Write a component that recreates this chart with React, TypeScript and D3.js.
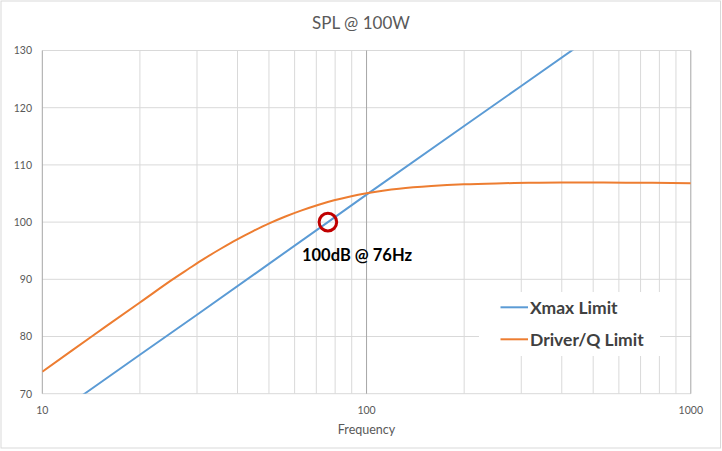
import * as d3 from 'd3'
import { useEffect, useRef } from 'react'

const WIDTH = 722
const HEIGHT = 451
const MARGIN = { LEFT: 42.3, RIGHT: 31.2, TOP: 50.5, BOTTOM: 57.3 }

const FONT = 'Lato, "Open Sans", sans-serif'

// Xmax limit (straight 12 dB/oct line)
const xmaxFreq = [10, 13.5, 20, 30, 50, 76, 100, 200, 300, 432, 500]
const xmaxSpl = [64.8, 70, 76.8, 83.8, 92.7, 100, 104.8, 116.8, 123.8, 130.1, 132.6]

// Driver / Q limit
const driverFreq = [10, 14.2, 20, 25.1, 28.2, 31.6, 35.5, 39.8, 44.7, 50.1, 56.2, 63.1, 70.8, 79.4, 89.1, 100, 112.2, 125.9, 158.5, 199.5, 251.2, 316.2, 398.1, 631, 1000]
const driverSpl = [73.85, 80.0, 85.95, 89.9, 91.8, 93.62, 95.34, 96.94, 98.42, 99.77, 100.97, 102.04, 102.99, 103.81, 104.49, 105.05, 105.5, 105.85, 106.3, 106.6, 106.77, 106.87, 106.92, 106.9, 106.8]

const yTicks = [70, 80, 90, 100, 110, 120, 130]
const xTickLabels = [10, 100, 1000]

const seriesNames = ['Xmax Limit', 'Driver/Q Limit']
const colors = ['#5B9BD5', '#ED7D31']

const markerFreq = 76
const markerSpl = 100
const markerLabel = '100dB @ 76Hz'

const App = () => {
  const ref = useRef<SVGSVGElement>(null)

  useEffect(() => {
    document.body.style.margin = '0'
    const svg = d3.select(ref.current)
    svg.selectAll('*').remove()

    const x = d3.scaleLog().domain([10, 1000]).range([MARGIN.LEFT, WIDTH - MARGIN.RIGHT])
    const y = d3.scaleLinear().domain([70, 130]).range([HEIGHT - MARGIN.BOTTOM, MARGIN.TOP])

    svg.append('rect')
      .attr('x', 1).attr('y', 1)
      .attr('width', WIDTH - 2.5).attr('height', HEIGHT - 4)
      .attr('fill', 'white')
      .attr('stroke', '#D9D9D9')

    svg.append('text')
      .attr('x', WIDTH / 2)
      .attr('y', 29)
      .attr('text-anchor', 'middle')
      .style('font-family', FONT)
      .style('font-size', '17px')
      .attr('fill', '#595959')
      .text('SPL @ 100W')

    // horizontal grid
    svg.append('g')
      .selectAll('line')
      .data(yTicks)
      .enter()
      .append('line')
      .attr('x1', x(10)).attr('x2', x(1000))
      .attr('y1', (d) => y(d)).attr('y2', (d) => y(d))
      .attr('stroke', '#D9D9D9')

    // vertical grid (log minor + major)
    const vTicks = x.ticks()
    svg.append('g')
      .selectAll('line')
      .data(vTicks)
      .enter()
      .append('line')
      .attr('x1', (d) => x(d)).attr('x2', (d) => x(d))
      .attr('y1', y(70)).attr('y2', y(130))
      .attr('stroke', (d) => (xTickLabels.includes(d) ? '#A6A6A6' : '#D9D9D9'))

    svg.append('g')
      .selectAll('text')
      .data(yTicks)
      .enter()
      .append('text')
      .attr('x', 32)
      .attr('y', (d) => y(d) + 3.8)
      .attr('text-anchor', 'end')
      .style('font-family', FONT)
      .style('font-size', '10.5px')
      .attr('fill', '#595959')
      .text((d) => d)

    svg.append('g')
      .selectAll('text')
      .data(xTickLabels)
      .enter()
      .append('text')
      .attr('x', (d) => x(d))
      .attr('y', 413.5)
      .attr('text-anchor', 'middle')
      .style('font-family', FONT)
      .style('font-size', '10.5px')
      .attr('fill', '#595959')
      .text((d) => d)

    svg.append('text')
      .attr('x', x(100))
      .attr('y', 434)
      .attr('text-anchor', 'middle')
      .style('font-family', FONT)
      .style('font-size', '12.5px')
      .attr('fill', '#595959')
      .text('Frequency')

    svg.append('clipPath')
      .attr('id', 'plot-clip')
      .append('rect')
      .attr('x', x(10)).attr('y', y(130))
      .attr('width', x(1000) - x(10)).attr('height', y(70) - y(130))

    const line = d3.line<[number, number]>()
      .x((d) => x(d[0]))
      .y((d) => y(d[1]))

    const xmaxData = xmaxFreq.map((f, i) => [f, xmaxSpl[i]] as [number, number])
    const driverData = driverFreq.map((f, i) => [f, driverSpl[i]] as [number, number])

    const plot = svg.append('g').attr('clip-path', 'url(#plot-clip)')

    plot.append('path')
      .attr('d', line(xmaxData))
      .attr('fill', 'none')
      .attr('stroke', colors[0])
      .attr('stroke-width', 2)

    plot.append('path')
      .attr('d', line.curve(d3.curveCatmullRom.alpha(0.5))(driverData))
      .attr('fill', 'none')
      .attr('stroke', colors[1])
      .attr('stroke-width', 2)

    // marker
    svg.append('circle')
      .attr('cx', x(markerFreq))
      .attr('cy', y(markerSpl))
      .attr('r', 8.8)
      .attr('fill', 'none')
      .attr('stroke', '#C00000')
      .attr('stroke-width', 3)

    svg.append('text')
      .attr('x', 357)
      .attr('y', 261)
      .attr('text-anchor', 'middle')
      .style('font-family', FONT)
      .style('font-size', '16.5px')
      .style('font-weight', 'bold')
      .attr('fill', '#000000')
      .text(markerLabel)

    // legend
    const lg = svg.append('g')
    lg.append('rect')
      .attr('x', 479).attr('y', 292)
      .attr('width', 181).attr('height', 64)
      .attr('fill', 'white')

    seriesNames.forEach((name, i) => {
      const ly = 307.3 + i * 32
      lg.append('line')
        .attr('x1', 500.5).attr('x2', 528)
        .attr('y1', ly).attr('y2', ly)
        .attr('stroke', colors[i])
        .attr('stroke-width', 2)
      lg.append('text')
        .attr('x', 530)
        .attr('y', ly + 6.3)
        .style('font-family', FONT)
        .style('font-size', '17.5px')
        .style('font-weight', 'bold')
        .attr('fill', '#404040')
        .text(name)
    })
  }, [])

  return <svg ref={ref} width={WIDTH} height={HEIGHT} style={{ display: 'block' }}></svg>
}

export default App
